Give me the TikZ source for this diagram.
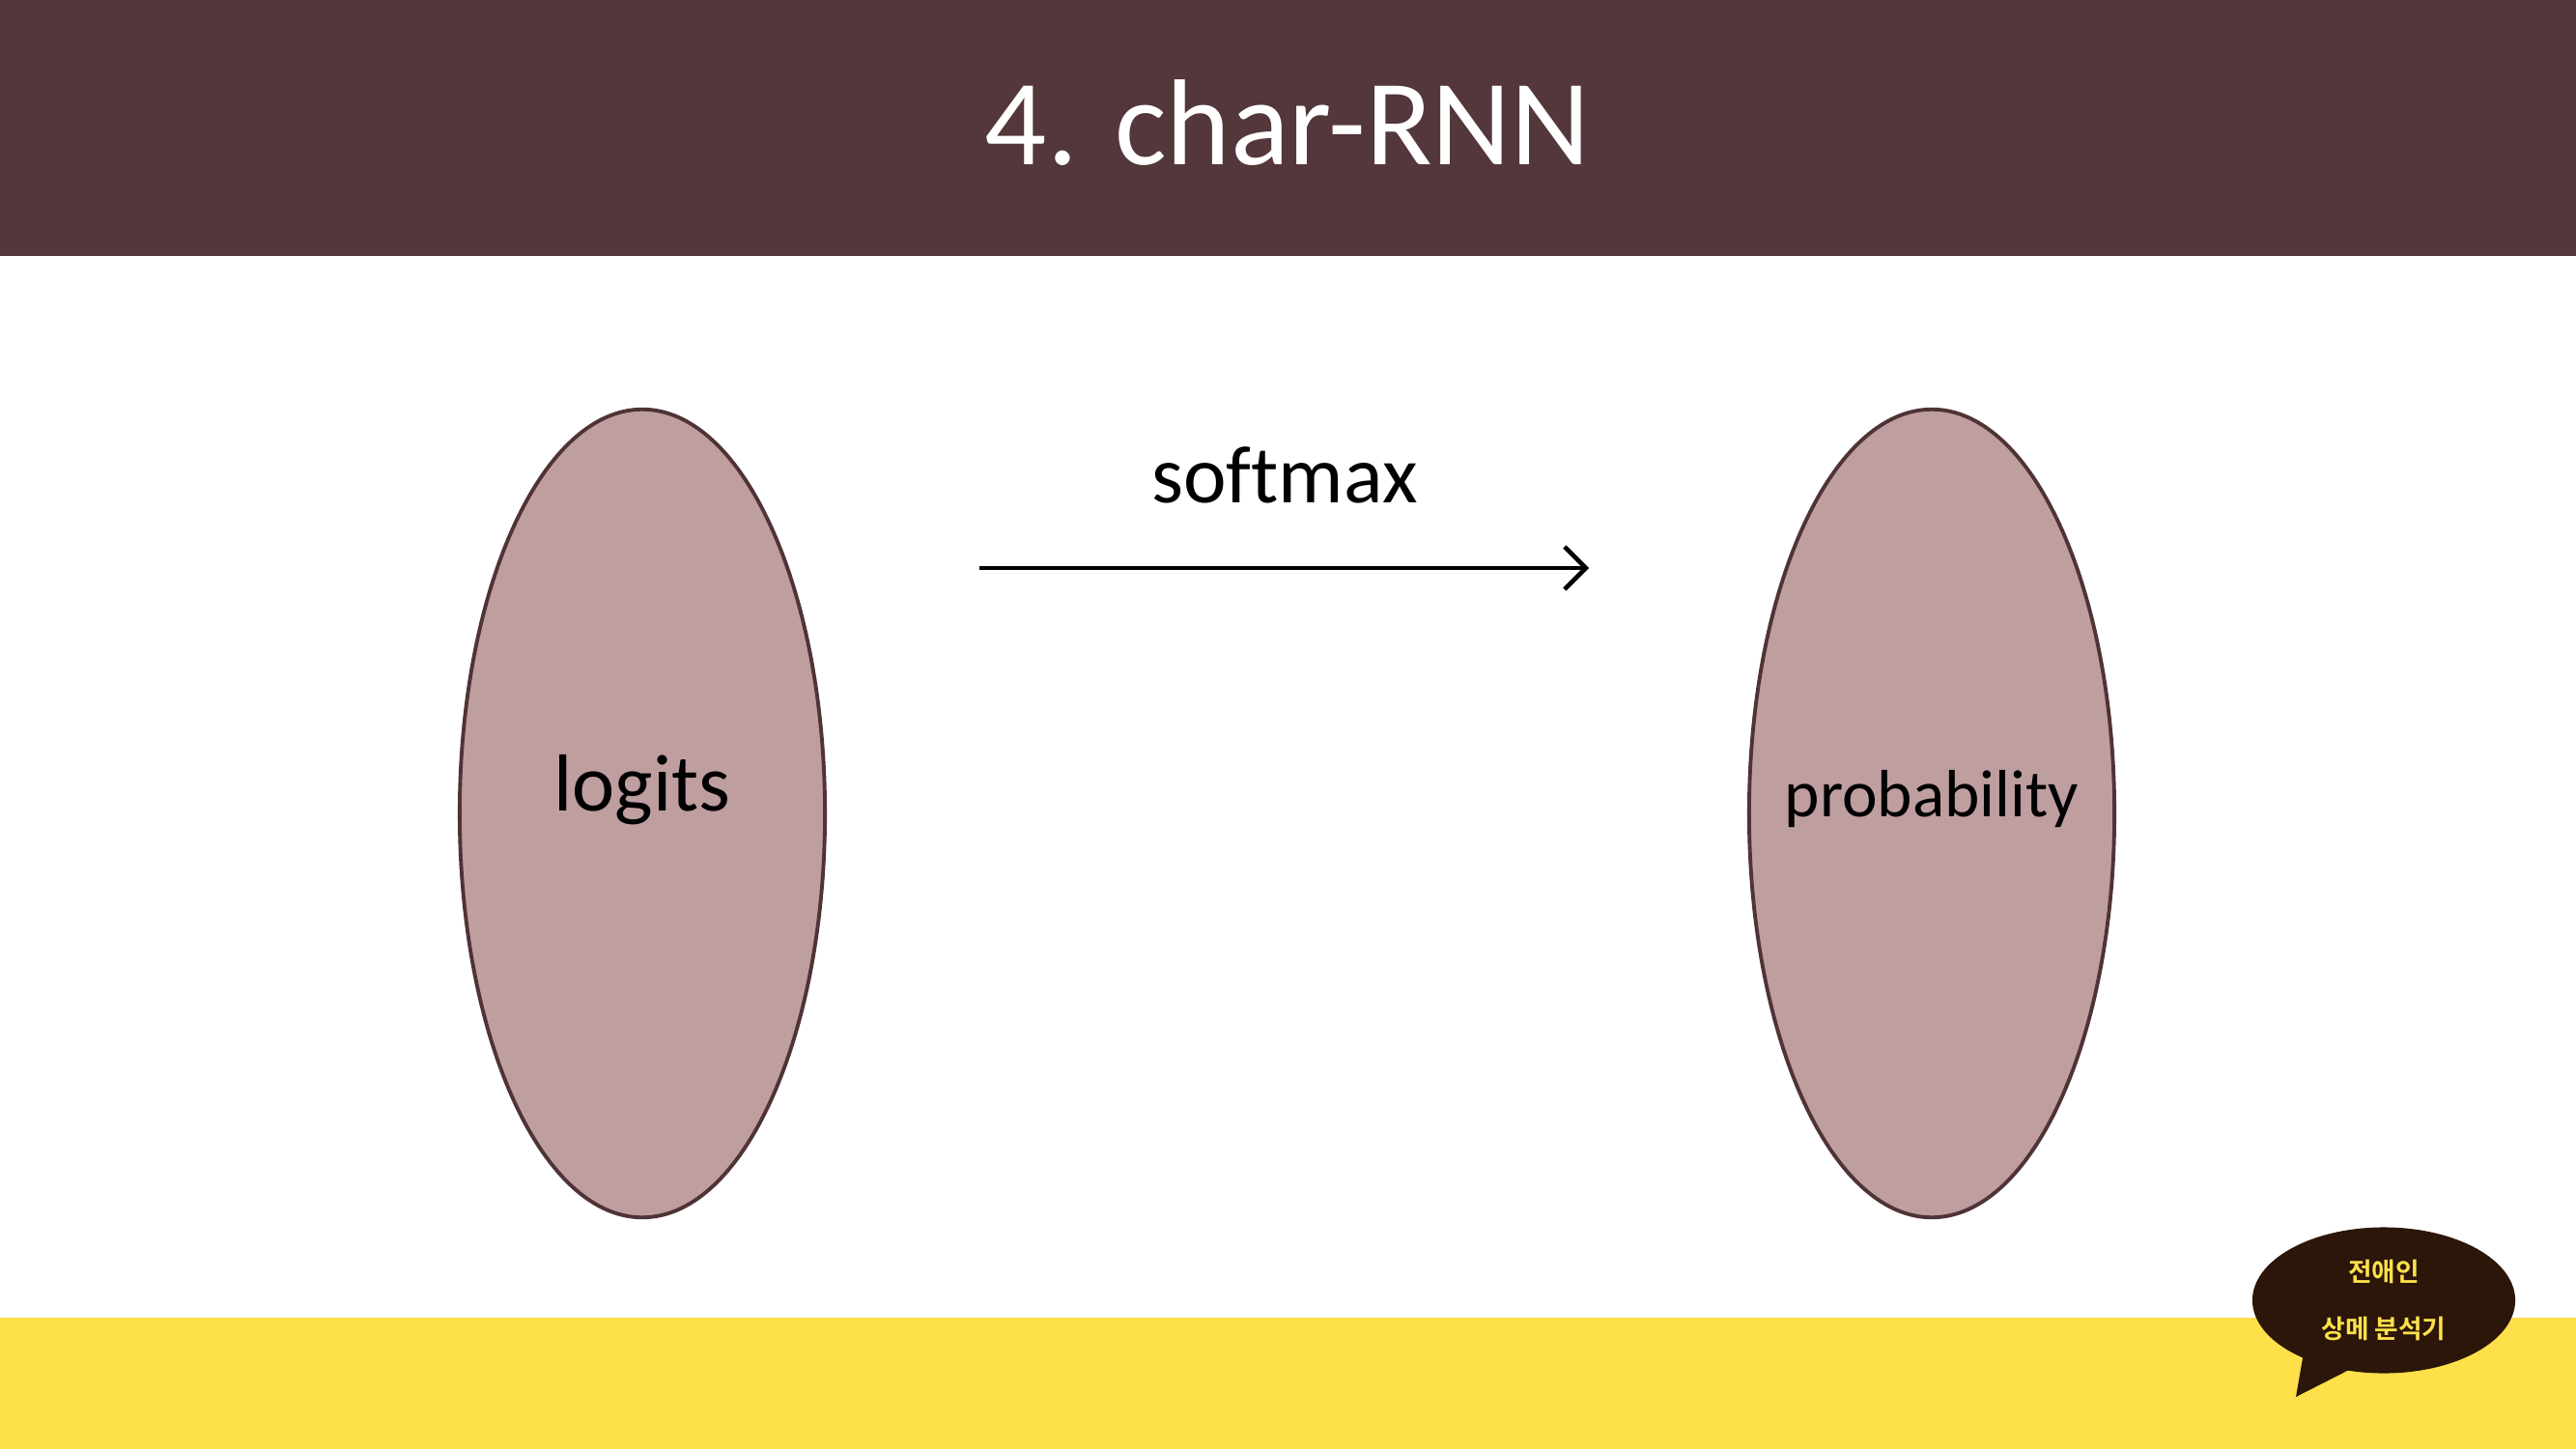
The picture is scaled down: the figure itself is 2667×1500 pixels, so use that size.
\documentclass[tikz,border=0pt]{standalone}
\usepackage{fontspec}
\setmainfont[Ligatures={NoCommon}]{Carlito}
\newfontfamily\krfont{Noto Sans CJK KR Bold}
\usetikzlibrary{shapes.geometric,arrows.meta}
\definecolor{bandbrown}{HTML}{53373A}
\definecolor{bandyellow}{HTML}{FEE04A}
\definecolor{blobfill}{HTML}{BF9EA0}
\definecolor{blobline}{HTML}{4F3336}
\definecolor{bubblefill}{HTML}{2B1609}
\tikzset{
  blob/.style={ellipse, draw=blobline, line width=1.1pt, fill=blobfill,
    minimum width=3.78cm, minimum height=8.36cm, inner sep=0pt},
  label/.style={text=black, inner sep=0pt},
  flow/.style={-{Straight Barb[length=2.2mm,width=4.4mm]}, line width=1.3pt, black},
  krtext/.style={text=bandyellow, font=\krfont\fontsize{7.6}{9}\selectfont, inner sep=0pt}
}
\begin{document}
\begin{tikzpicture}[x=0.01cm,y=-0.01cm]
  \useasboundingbox (0,0) rectangle (2667,1500);
  % background bands
  \fill[white] (0,0) rectangle (2667,1500);
  \fill[bandbrown] (0,0) rectangle (2667,265);
  \fill[bandyellow] (0,1364) rectangle (2667,1500);
  % title
  \node[text=white, inner sep=0pt, anchor=base, font=\fontsize{36}{42}\selectfont] (title) at (1333,170) {4. char-RNN};
  % the two sets of values
  \node[blob] (logits) at (665,842) {};
  \node[blob] (prob) at (2000,842) {};
  \node[label, anchor=base, font=\fontsize{23.8}{29}\selectfont] (logitstxt) at (665,839) {logits};
  \node[label, anchor=base, font=\fontsize{19.7}{24}\selectfont] (probtxt) at (2000,845) {probability};
  % softmax transformation
  \coordinate (arrowstart) at (1014,588);
  \coordinate (arrowend) at (1645,588);
  \draw[flow] (arrowstart) -- (arrowend);
  \node[label, anchor=base, font=\fontsize{24}{29}\selectfont] (softmax) at (1330,520) {softmax};
  % speech bubble badge
  \fill[bubblefill] (2385,1400) -- (2377,1446) -- (2436,1416) -- cycle;
  \node[ellipse, fill=bubblefill, minimum width=2.72cm, minimum height=1.51cm, inner sep=0pt] (bubble) at (2468,1346) {};
  \node[krtext] (kr1) at (2468,1316) {전애인};
  \node[krtext] (kr2) at (2468,1375) {상메 분석기};
\end{tikzpicture}
\end{document}
